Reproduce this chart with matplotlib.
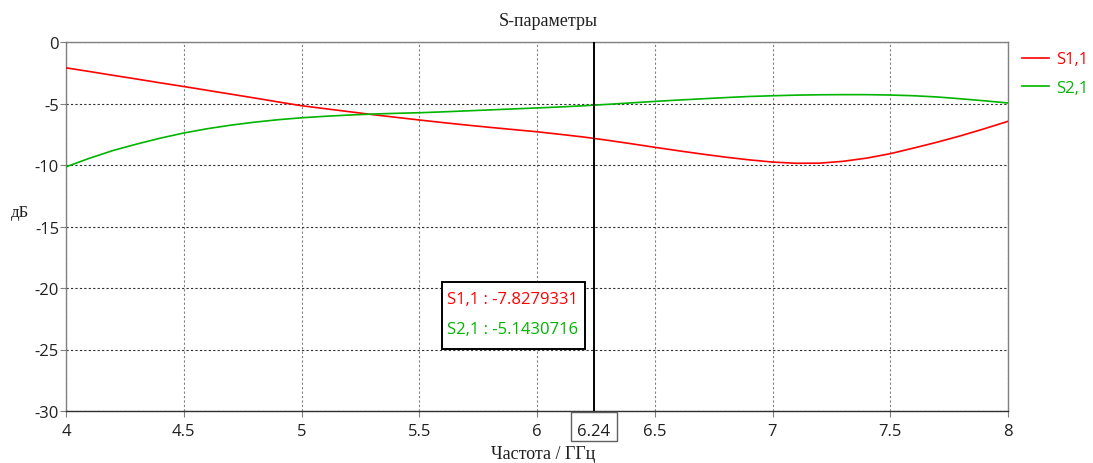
import matplotlib
matplotlib.use('Agg')
import matplotlib.pyplot as plt
from matplotlib.patches import Rectangle

# frequency grid, GHz
freq = [4.0, 4.1, 4.2, 4.3, 4.4, 4.5, 4.6, 4.7, 4.8, 4.9,
        5.0, 5.1, 5.2, 5.3, 5.4, 5.5, 5.6, 5.7, 5.8, 5.9,
        6.0, 6.1, 6.2, 6.3, 6.4, 6.5, 6.6, 6.7, 6.8, 6.9,
        7.0, 7.1, 7.2, 7.3, 7.4, 7.5, 7.6, 7.7, 7.8, 7.9, 8.0]

s11 = [-2.10, -2.40, -2.71, -3.01, -3.32, -3.62, -3.93, -4.24, -4.55, -4.87,
       -5.18, -5.42, -5.66, -5.90, -6.12, -6.34, -6.55, -6.75, -6.94, -7.12,
       -7.30, -7.51, -7.73, -7.99, -8.27, -8.56, -8.84, -9.11, -9.36, -9.58,
       -9.76, -9.86, -9.85, -9.70, -9.44, -9.08, -8.62, -8.14, -7.62, -7.05, -6.45]

s21 = [-10.15, -9.45, -8.82, -8.30, -7.82, -7.40, -7.05, -6.76, -6.52, -6.32,
       -6.16, -6.04, -5.94, -5.86, -5.80, -5.75, -5.68, -5.60, -5.52, -5.44,
       -5.36, -5.28, -5.18, -5.07, -4.95, -4.83, -4.72, -4.62, -4.52, -4.43,
       -4.37, -4.32, -4.29, -4.28, -4.28, -4.31, -4.37, -4.47, -4.62, -4.78, -4.96]

cursor_f = 6.24
cursor_vals = ['S1,1 : -7.8279331', 'S2,1 : -5.1430716']
xticks = [4, 4.5, 5, 5.5, 6, 6.5, 7, 7.5, 8]
yticks = [0, -5, -10, -15, -20, -25, -30]

RED = '#ff0000'
GREEN = '#00b400'
SANS = ['Open Sans', 'DejaVu Sans']
SERIF = ['Liberation Serif', 'DejaVu Serif']
FS = 12

plt.rcParams['axes.unicode_minus'] = False
plt.rcParams['font.family'] = SANS

W, H = 1093, 464
fig = plt.figure(figsize=(W / 100, H / 100), dpi=100)
ax = fig.add_axes([66 / W, 1 - 412 / H, (1008 - 66) / W, (412 - 43) / H])

ax.plot(freq, s11, color=RED, lw=1.2, label='S1,1', zorder=3)
ax.plot(freq, s21, color=GREEN, lw=1.2, label='S2,1', zorder=3)
ax.axvline(cursor_f, color='black', lw=1.4, zorder=4)

ax.set_xlim(4, 8)
ax.set_ylim(-30, 0)
ax.set_xticks(xticks)
ax.set_xticklabels(['4', '4.5', '5', '5.5', '6', '6.5', '7', '7.5', '8'])
ax.set_yticks(yticks)
ax.set_yticklabels([str(v) for v in yticks])
ax.tick_params(axis='both', labelsize=FS, length=4, width=0.8, color='#808080',
               labelcolor='#202020')
ax.tick_params(axis='x', pad=5)
ax.tick_params(axis='y', pad=1)

ax.xaxis.grid(True, color='#808080', ls=(0, (2, 2)), lw=0.8)
ax.yaxis.grid(True, color='#303030', ls=(0, (2, 2)), lw=0.8)
ax.set_axisbelow(True)

for side in ['left', 'top', 'right']:
    ax.spines[side].set_color('#808080')
    ax.spines[side].set_linewidth(1.0)
ax.spines['bottom'].set_color('#303030')
ax.spines['bottom'].set_linewidth(1.0)

# cursor frequency label under the axis, with its own frame
ax.text(cursor_f, -31.6, '6.24', ha='center', va='center', fontsize=FS,
        color='#202020', clip_on=False)
fig.patches.append(Rectangle((571 / W, 1 - 442 / H), (617 - 571) / W, (442 - 413) / H,
                             transform=fig.transFigure, fill=False, ec='#606060',
                             lw=1.0, zorder=5))

# cursor readout box
fig.patches.append(Rectangle((442 / W, 1 - 350 / H), (585 - 442) / W, (350 - 283) / H,
                             transform=fig.transFigure, fc='white', ec='black',
                             lw=1.4, zorder=5))
fig.text(447 / W, 1 - 300 / H, cursor_vals[0], fontsize=FS, color=RED,
         ha='left', va='center', zorder=6)
fig.text(447 / W, 1 - 330 / H, cursor_vals[1], fontsize=FS, color=GREEN,
         ha='left', va='center', zorder=6)

# titles
fig.text(548 / W, 1 - 21 / H, 'S-параметры', family=SERIF, fontsize=13,
         ha='center', va='center', color='#202020')
fig.text(20 / W, 1 - 213 / H, 'дБ', family=SERIF, fontsize=12,
         ha='center', va='center', color='#202020')
fig.text(543 / W, 1 - 455 / H, 'Частота / ГГц', family=SERIF, fontsize=13,
         ha='center', va='center', color='#202020')

# legend at right
leg = ax.legend(loc='upper left', bbox_to_anchor=(1019 / W, 1 - 49 / H),
                bbox_transform=fig.transFigure, frameon=False, fontsize=FS,
                handlelength=1.6, handletextpad=0.4, labelspacing=0.75,
                borderaxespad=0, borderpad=0.2)
for txt, c in zip(leg.get_texts(), [RED, GREEN]):
    txt.set_color(c)

fig.savefig('out.png', dpi=100)
